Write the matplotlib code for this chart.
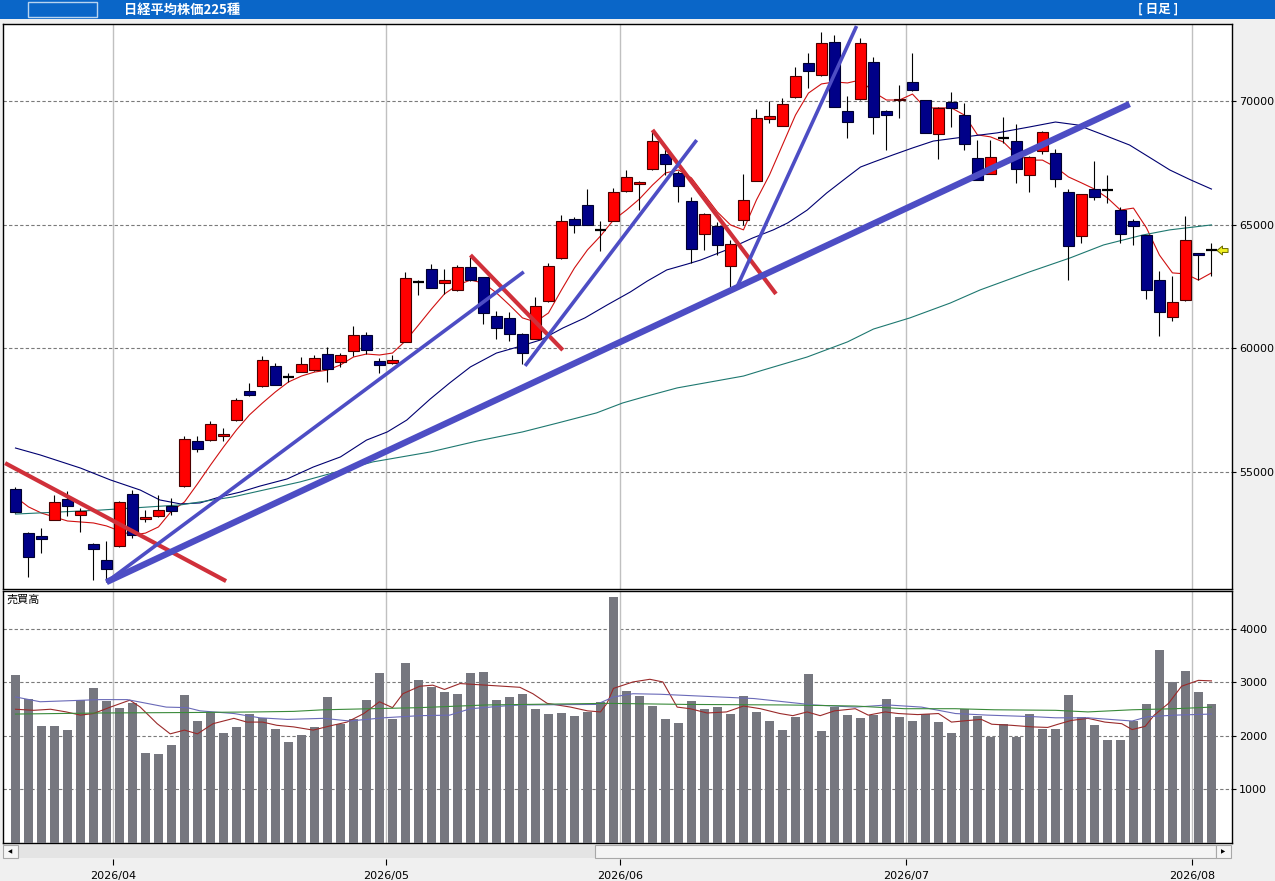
import numpy as np
import matplotlib.pyplot as plt
from matplotlib.patches import Rectangle
from matplotlib.path import Path
import matplotlib.transforms as mtransforms

# 日足データ（始値・高値・安値・終値）
opens = [54310, 52530, 52410, 53060, 53910, 53260, 52090, 51440, 52010, 54110,
         53100, 53220, 53630, 54430, 56250, 56290, 56460, 57100, 58280, 58480,
         59290, 58840, 59040, 59120, 59770, 59450, 59890, 60540, 59490, 59410,
         60260, 62680, 63210, 62640, 62360, 63290, 62880, 61310, 61230, 60580,
         60380, 61910, 63650, 65230, 65800, 64790, 65150, 66360, 66640, 67250,
         67860, 67090, 65960, 64620, 64950, 63330, 65190, 66770, 69270, 68990,
         70160, 71540, 71050, 72390, 69600, 70080, 71580, 69600, 70040, 70770,
         70040, 68670, 69960, 69430, 67700, 67050, 68500, 68380, 67010, 67980,
         67900, 66320, 64540, 66440, 66400, 65590, 65150, 64580, 62760, 61270,
         61950, 63850, 63980]
highs = [54390, 52560, 52740, 54070, 54230, 53550, 52110, 52210, 53830, 54270,
         53460, 54070, 53950, 56460, 56460, 57060, 56780, 57990, 58600, 59690,
         59410, 59000, 59650, 59730, 60050, 59810, 60900, 60660, 59610, 59730,
         63090, 62760, 63410, 63210, 63370, 63690, 62900, 61510, 61470, 60600,
         62080, 63450, 65390, 65310, 66440, 65150, 66480, 67210, 66750, 68790,
         68060, 67170, 66120, 65470, 65110, 64380, 67050, 69680, 70000, 70120,
         71370, 71940, 72790, 72670, 70200, 72550, 71780, 69620, 70650, 71940,
         70060, 69740, 70360, 69920, 68420, 68420, 69350, 69070, 67760, 68790,
         68060, 66440, 66260, 67570, 67010, 65710, 65230, 64600, 63130, 62930,
         65350, 63870, 64260]
lows = [53340, 50760, 51730, 53040, 53220, 52580, 50630, 50550, 51970, 52330,
        52980, 53200, 53260, 54410, 55810, 56270, 56250, 57080, 58070, 58440,
        58500, 58640, 59030, 59080, 58640, 59250, 59690, 59770, 59000, 59370,
        60240, 62160, 62420, 62200, 62320, 62740, 60980, 60380, 60300, 59370,
        60360, 61890, 63630, 64660, 64970, 63940, 65130, 66340, 65590, 67230,
        67010, 65920, 63450, 63980, 63770, 62480, 64990, 66750, 69110, 68970,
        70140, 70530, 71030, 69740, 68500, 70060, 68670, 68020, 69310, 70420,
        68690, 67660, 68950, 68020, 66790, 67030, 68300, 66690, 66320, 67860,
        66520, 62760, 64260, 66000, 65880, 64260, 64180, 62000, 60500, 61100,
        61930, 62760, 62930]
closes = [53380, 51560, 52290, 53790, 53630, 53420, 51890, 51080, 53790, 52450,
          53180, 53460, 53420, 56340, 55930, 56940, 56540, 57910, 58110, 59530,
          58520, 58840, 59370, 59610, 59170, 59730, 60540, 59930, 59330, 59530,
          62840, 62680, 62440, 62760, 63290, 62760, 61430, 60820, 60580, 59810,
          61710, 63330, 65150, 64990, 64990, 64790, 66320, 66930, 66730, 68380,
          67450, 66560, 64020, 65430, 64180, 64220, 66000, 69310, 69390, 69880,
          71010, 71210, 72340, 69760, 69150, 72340, 69350, 69430, 70080, 70440,
          68710, 69720, 69720, 68260, 66810, 67740, 68500, 67250, 67740, 68750,
          66850, 64140, 66240, 66120, 66400, 64620, 64950, 62360, 61470, 61870,
          64380, 63770, 63980]

# 売買高
volumes = [3140, 2700, 2190, 2190, 2110, 2670, 2890, 2650, 2520, 2610,
           1690, 1660, 1830, 2760, 2280, 2440, 2050, 2160, 2420, 2330,
           2130, 1880, 2010, 2160, 2730, 2230, 2320, 2670, 3180, 2320,
           3360, 3040, 2910, 2820, 2790, 3180, 3190, 2670, 2730, 2780,
           2500, 2410, 2430, 2370, 2440, 2630, 4600, 2840, 2740, 2560,
           2310, 2240, 2650, 2500, 2540, 2410, 2740, 2440, 2280, 2110,
           2350, 3160, 2090, 2540, 2390, 2330, 2400, 2690, 2350, 2280,
           2420, 2260, 2050, 2500, 2370, 1990, 2220, 1990, 2410, 2130,
           2130, 2760, 2350, 2200, 1920, 1920, 2280, 2590, 3610, 3010,
           3210, 2820, 2590]

# 移動平均（5日）
ma_short = [53990, 53590, 53340, 53180, 53020, 52980, 52940, 52820, 52620, 52450,
            52530, 52780, 53420, 53790, 54520, 55280, 56010, 56700, 57310, 57790,
            58240, 58640, 58880, 59040, 59120, 59330, 59650, 59770, 59730, 59810,
            60300, 60940, 61590, 62200, 62560, 62760, 62640, 62240, 61750, 61230,
            61070, 61430, 62360, 63250, 63980, 64540, 65190, 65590, 66040, 66600,
            67090, 67210, 66890, 66200, 65510, 64990, 64790, 66000, 67010, 68220,
            69430, 70320, 70690, 70770, 70730, 70850, 70360, 70040, 70040, 70280,
            69720, 69720, 69720, 69430, 68630, 68550, 68340, 67820, 67610, 67610,
            67330, 66930, 66690, 66440, 66080, 65590, 65670, 64870, 63770, 63050,
            63010, 62760, 63050]

# 移動平均（25日）
ma_mid_x = [0, 1.9, 5.0, 7.3, 9.6, 11.1, 12.7, 14.2, 15.7, 17.3, 18.8, 20.9, 22.9,
            25.0, 27.0, 28.6, 30.1, 31.9, 33.4, 35.0, 37.0, 38.6, 40.4, 42.1, 43.8,
            45.5, 47.3, 48.6, 50.1, 51.7, 52.7, 54.7, 56.7, 58.3, 59.4, 60.9, 62.4,
            64.0, 65.0, 66.0, 67.5, 69.0, 70.6, 72.9, 75.5, 78.0, 80.0, 81.7, 83.7,
            85.7, 87.3, 88.8, 90.4, 92.0]
ma_mid = [55970, 55690, 55160, 54680, 54270, 53870, 53710, 53750, 53990, 54190,
          54430, 54720, 55200, 55610, 56290, 56620, 57100, 57950, 58600, 59250,
          59810, 60050, 60340, 60820, 61230, 61750, 62280, 62720, 63170, 63410,
          63570, 63980, 64460, 64790, 65070, 65590, 66280, 66930, 67330, 67530,
          67820, 68100, 68380, 68540, 68710, 68950, 69150, 69030, 68630, 68220,
          67700, 67210, 66810, 66440]

# 移動平均（75日）
ma_long_x = [0, 6.5, 12.7, 16.7, 21.9, 27.5, 31.9, 35.5, 39.0, 41.7, 44.7, 46.7,
             48.3, 50.9, 56.0, 57.5, 60.9, 64.0, 66.0, 68.8, 71.9, 74.2, 78.0,
             81.1, 83.7, 86.7, 88.8, 92.0]
ma_long = [53300, 53460, 53670, 53990, 54600, 55410, 55810, 56250, 56620, 56980,
           57390, 57790, 58030, 58400, 58880, 59120, 59650, 60260, 60780, 61230,
           61830, 62360, 63090, 63650, 64180, 64580, 64790, 64990]

# 売買高の移動平均
vol_ma1_x = [0, 1.4, 2.7, 3.9, 5, 6, 7.3, 8.8, 9.6, 10.9, 11.9, 13, 14, 15.2, 16.8,
             17.8, 19, 20.1, 21.4, 22.9, 24.4, 25.5, 26.8, 28, 29, 29.8, 31.1, 32.1,
             33, 34.2, 36.2, 38.8, 39.8, 40.9, 42.7, 44, 45, 45.5, 46, 47.5, 48.8,
             49.8, 50.9, 51.9, 53.2, 54.7, 56, 57.3, 58.8, 59.8, 60.9, 61.9, 63,
             64.6, 65.6, 66.9, 67.9, 69.4, 71, 72, 73.3, 74.3, 75.1, 76.6, 78.2,
             79.4, 80.2, 81.2, 82.5, 83.8, 85.1, 85.9, 86.9, 87.6, 88.7, 89.7, 91, 92]
vol_ma1 = [2500, 2480, 2500, 2450, 2390, 2420, 2540, 2670, 2540, 2230, 2040, 2110,
           2040, 2230, 2330, 2260, 2260, 2200, 2170, 2110, 2200, 2260, 2420, 2640,
           2530, 2790, 2930, 2950, 2870, 2980, 2950, 2910, 2790, 2610, 2540, 2470,
           2450, 2610, 2890, 3010, 3060, 3010, 2540, 2510, 2430, 2450, 2560, 2510,
           2420, 2380, 2450, 2380, 2470, 2510, 2390, 2450, 2420, 2400, 2420, 2260,
           2290, 2310, 2220, 2200, 2170, 2160, 2220, 2290, 2330, 2260, 2230, 2120,
           2180, 2390, 2610, 2930, 3040, 3030]
vol_ma2_x = [0, 1.9, 6.5, 8.6, 11.6, 13.2, 14.2, 16.8, 18.8, 20.9, 23.7, 25.7, 28.3,
             31.1, 33.4, 35, 37.5, 38.8, 44.7, 46, 47.5, 49.6, 53.2, 56.8, 61.4,
             64.6, 67.1, 69.7, 72.3, 74.8, 78.4, 80, 82.5, 85.9, 87.1, 89.2, 92]
vol_ma2 = [2730, 2640, 2680, 2680, 2540, 2530, 2470, 2420, 2340, 2310, 2330, 2280,
           2340, 2380, 2390, 2510, 2560, 2580, 2590, 2730, 2790, 2780, 2740, 2700,
           2580, 2540, 2580, 2540, 2420, 2390, 2360, 2340, 2340, 2280, 2360, 2390, 2410]
vol_ma3_x = [0, 6.5, 14.2, 18.6, 21.4, 23.7, 31.1, 36.2, 45.5, 51.6, 59.3, 64.6,
             68.4, 72.3, 75.3, 80, 82.5, 85.9, 89.2, 92]
vol_ma3 = [2410, 2430, 2440, 2450, 2460, 2490, 2530, 2580, 2610, 2590, 2580, 2560,
           2510, 2510, 2490, 2480, 2450, 2490, 2510, 2540]

# トレンドライン（始点・終点）
red_x0 = [-0.8, 35.0, 49.0]
red_y0 = [55360, 63770, 68830]
red_x1 = [16.2, 42.1, 58.5]
red_y1 = [50590, 59930, 62200]
blue_x0 = [7.0, 39.2, 55.5]
blue_y0 = [50550, 59290, 62480]
blue_x1 = [39.1, 52.4, 64.7]
blue_y1 = [63090, 68420, 73030]
main_x = [7.0, 85.7]
main_y = [50550, 69880]

month_pos = [7.5, 28.5, 46.5, 68.5, 90.5]
month_labels = ['2026/04', '2026/05', '2026/06', '2026/07', '2026/08']
price_ticks = [55000, 60000, 65000, 70000]
vol_ticks = [1000, 2000, 3000, 4000]

W, H = 1275, 881
cjk = ['Noto Sans CJK JP', 'DejaVu Sans']

fig = plt.figure(figsize=(W / 100, H / 100), dpi=100, facecolor='#F0F0F0')

# タイトルバー
fig.patches.append(Rectangle((0, 1 - 19 / H), 1, 19 / H, transform=fig.transFigure,
                             facecolor='#0A66C8', edgecolor='none'))
fig.patches.append(Rectangle((28 / W, 1 - 17 / H), 69 / W, 15 / H, transform=fig.transFigure,
                             facecolor='#0A66C8', edgecolor='#B8D4F0', lw=1))
fig.text(124 / W, 1 - 9.5 / H, '日経平均株価225種', color='white', fontsize=9.5,
         fontweight='bold', family=cjk, va='center', ha='left')
fig.text(1158 / W, 1 - 9.5 / H, '[ 日足 ]', color='white', fontsize=9,
         fontweight='bold', family=cjk, va='center', ha='center')

ax1 = fig.add_axes([3 / W, 1 - 589 / H, 1229 / W, 565 / H])
ax2 = fig.add_axes([3 / W, 1 - 843 / H, 1229 / W, 252 / H])

n = len(closes)
idx = np.arange(n)
xlim = (-0.96, 93.58)

# ローソク足
o = np.array(opens)
c = np.array(closes)
ax1.vlines(idx, lows, highs, color='black', lw=0.8, zorder=3)
up = c > o
down = c < o
flat = c == o
ax1.bar(idx[up], (c - o)[up], bottom=o[up], width=0.85, color='#FF0000',
        edgecolor='#4A0000', lw=0.8, zorder=4)
ax1.bar(idx[down], (o - c)[down], bottom=c[down], width=0.85, color='#000088',
        edgecolor='#000030', lw=0.8, zorder=4)
ax1.hlines(c[flat], idx[flat] - 0.42, idx[flat] + 0.42, color='black', lw=1.6, zorder=4)

# 移動平均線
ax1.plot(idx, ma_short, color='#D01010', lw=0.8, zorder=2)
ax1.plot(ma_mid_x, ma_mid, color='#000070', lw=0.8, zorder=2)
ax1.plot(ma_long_x, ma_long, color='#1E7870', lw=0.8, zorder=2)

# トレンドライン
for xa, ya, xb, yb in zip(red_x0, red_y0, red_x1, red_y1):
    ax1.plot([xa, xb], [ya, yb], color='#D0303A', lw=3, solid_capstyle='butt', zorder=5)
for xa, ya, xb, yb in zip(blue_x0, blue_y0, blue_x1, blue_y1):
    ax1.plot([xa, xb], [ya, yb], color='#4D4DC4', lw=2.6, solid_capstyle='butt', zorder=5)
ax1.plot(main_x, main_y, color='#4D4DC4', lw=4.6, solid_capstyle='butt', zorder=5)

# 最終値の矢印
arrow = Path([(-1, 0), (0, 0.8), (0, 0.35), (1, 0.35), (1, -0.35), (0, -0.35),
              (0, -0.8), (-1, 0)])
ax1.plot(idx[-1] + 0.8, closes[-1], marker=arrow, markersize=8, color='#F0F020',
         markeredgecolor='#6A6A00', markeredgewidth=0.7, zorder=6, clip_on=False)

ax1.set_xlim(*xlim)
ax1.set_ylim(50270, 73113)
ax1.set_yticks(price_ticks)
ax1.set_xticks([])

# 売買高
ax2.bar(idx, volumes, width=0.69, color='#76777F', zorder=3)
ax2.plot(vol_ma1_x, vol_ma1, color='#9A2A2A', lw=0.8, zorder=4)
ax2.plot(vol_ma2_x, vol_ma2, color='#6A6AB8', lw=0.8, zorder=4)
ax2.plot(vol_ma3_x, vol_ma3, color='#3A8A3A', lw=0.8, zorder=4)
ax2.set_xlim(*xlim)
ax2.set_ylim(0, 4710)
ax2.set_yticks(vol_ticks)
ax2.text(0.003, 0.985, '売買高', transform=ax2.transAxes, family=cjk, fontsize=8,
         va='top', ha='left')

for ax in (ax1, ax2):
    ax.set_facecolor('white')
    ax.yaxis.tick_right()
    ax.tick_params(axis='y', direction='out', length=3, pad=2, labelsize=8, width=0.8)
    for v in ax.get_yticks():
        ax.axhline(v, color='#7A7A7A', lw=0.8, ls=(0, (3, 2)), zorder=1)
    for m in month_pos:
        ax.axvline(m, color='#C0C0C0', lw=1, zorder=1)
    for s in ax.spines.values():
        s.set_color('black')
        s.set_linewidth(1)

ax2.set_xticks(month_pos)
ax2.set_xticklabels(month_labels, fontsize=8)
ax2.tick_params(axis='x', length=0, pad=20)

# 月の目盛り線（スクロールバーの下）
trans = mtransforms.blended_transform_factory(ax2.transData, fig.transFigure)
ax2.vlines(month_pos, 1 - 865 / H, 1 - 859 / H, color='black', lw=0.8,
           transform=trans, clip_on=False)

# スクロールバー
fig.patches.append(Rectangle((3 / W, 1 - 858 / H), 1228 / W, 13 / H, transform=fig.transFigure,
                             facecolor='#E4E4E4', edgecolor='none'))
fig.patches.append(Rectangle((595 / W, 1 - 858 / H), 621 / W, 13 / H, transform=fig.transFigure,
                             facecolor='#F4F4F4', edgecolor='#A8A8A8', lw=0.8))
fig.patches.append(Rectangle((3 / W, 1 - 858 / H), 15 / W, 13 / H, transform=fig.transFigure,
                             facecolor='#F6F6F6', edgecolor='#A8A8A8', lw=0.8))
fig.patches.append(Rectangle((1216 / W, 1 - 858 / H), 15 / W, 13 / H, transform=fig.transFigure,
                             facecolor='#F6F6F6', edgecolor='#A8A8A8', lw=0.8))
fig.text(10.5 / W, 1 - 851.5 / H, '◀', fontsize=4, ha='center', va='center')
fig.text(1223.5 / W, 1 - 851.5 / H, '▶', fontsize=4, ha='center', va='center')

fig.savefig('out.png', dpi=100, facecolor=fig.get_facecolor())
